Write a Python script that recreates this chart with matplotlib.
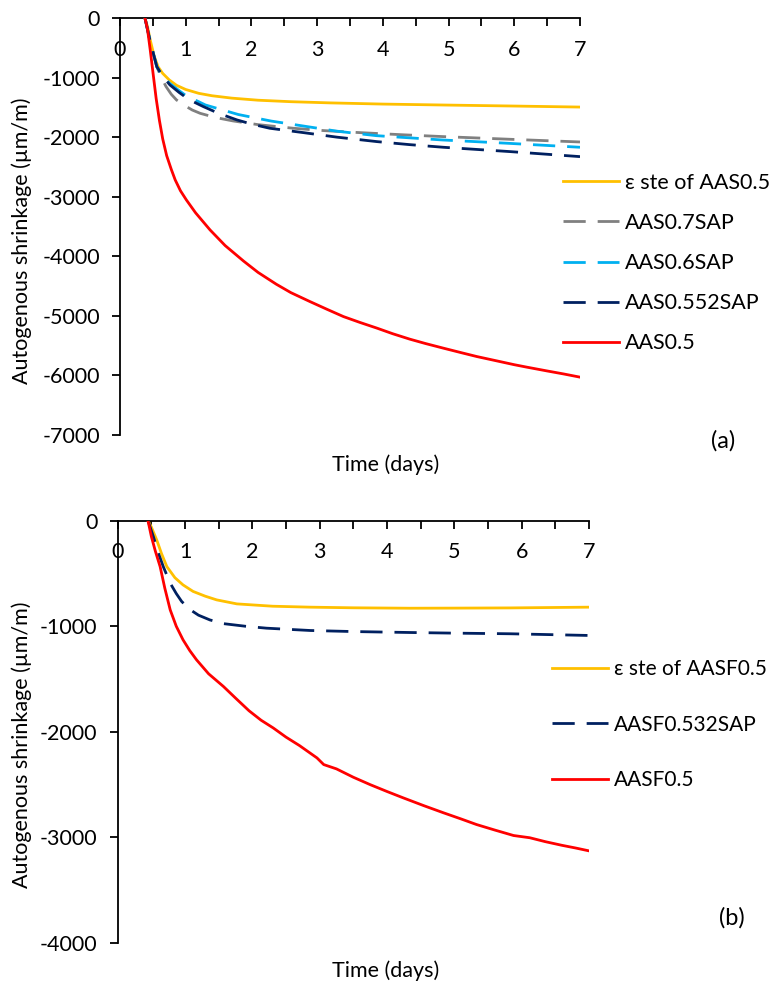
import numpy as np
import matplotlib.pyplot as plt
from matplotlib.ticker import MultipleLocator

# ------------------------------------------------------------
# (a) AAS mixes - autogenous shrinkage over the first 7 days
# ------------------------------------------------------------
a_ste_t = [0.38, 0.42, 0.46, 0.52, 0.58, 0.65, 0.75, 0.86, 1.0, 1.2, 1.4, 1.7, 2.1, 2.6, 3.2, 4.0, 5.0, 6.0, 7.0]
a_ste_v = [0, -150, -370, -640, -820, -930, -1040, -1130, -1200, -1265, -1305, -1345, -1380, -1405, -1425, -1445, -1462, -1478, -1495]

a_07_t = [0.38, 0.46, 0.56, 0.63, 0.7, 0.78, 0.86, 1.0, 1.1, 1.22, 1.45, 1.72, 2.1, 2.64, 3.1, 3.65, 4.3, 4.92, 5.94, 7.0]
a_07_v = [0, -400, -817, -1000, -1150, -1280, -1376, -1480, -1545, -1600, -1670, -1728, -1790, -1851, -1890, -1924, -1960, -1991, -2036, -2081]

a_06_t = [0.38, 0.46, 0.56, 0.65, 0.76, 0.9, 1.0, 1.3, 1.8, 2.3, 2.8, 3.3, 3.9, 4.9, 5.9, 7.0]
a_06_v = [0, -400, -817, -980, -1100, -1220, -1300, -1460, -1620, -1730, -1815, -1900, -1975, -2047, -2103, -2170]

a_0552_t = [0.38, 0.46, 0.56, 0.65, 0.76, 0.9, 1.05, 1.27, 1.5, 1.78, 2.0, 2.28, 2.79, 3.3, 3.91, 4.4, 4.92, 5.94, 7.0]
a_0552_v = [0, -400, -817, -980, -1124, -1250, -1370, -1488, -1600, -1711, -1780, -1851, -1924, -2000, -2075, -2125, -2170, -2243, -2327]

a_05_t = [0.38, 0.42, 0.46, 0.5, 0.55, 0.6, 0.65, 0.71, 0.78, 0.84, 0.92, 1.01, 1.15, 1.37, 1.6, 1.88,
          2.1, 2.38, 2.6, 2.89, 3.15, 3.4, 3.65, 3.91, 4.15, 4.41, 4.65, 4.92, 5.2, 5.43, 5.73, 6.0, 6.19, 6.5, 6.75, 7.0]
a_05_v = [0, -200, -537, -900, -1350, -1720, -2030, -2310, -2540, -2718, -2900, -3054, -3270, -3557, -3820, -4080,
          -4270, -4470, -4610, -4760, -4890, -5012, -5110, -5206, -5300, -5391, -5465, -5542, -5620, -5683, -5755, -5820, -5861, -5925, -5975, -6029]

# ------------------------------------------------------------
# (b) AASF mixes
# ------------------------------------------------------------
b_ste_t = [0.45, 0.5, 0.58, 0.65, 0.73, 0.85, 0.97, 1.12, 1.3, 1.47, 1.77, 2.3, 2.86, 3.5, 4.34, 5.0, 5.83, 7.0]
b_ste_v = [0, -60, -183, -310, -435, -540, -608, -670, -715, -750, -788, -810, -819, -825, -829, -828, -826, -819]

b_sap_t = [0.45, 0.53, 0.6, 0.68, 0.78, 0.87, 0.95, 1.07, 1.2, 1.37, 1.57, 1.9, 2.21, 2.86, 3.5, 4.34, 5.0, 5.83, 7.0]
b_sap_v = [0, -151, -300, -440, -592, -690, -765, -840, -895, -940, -975, -1000, -1018, -1040, -1050, -1059, -1065, -1071, -1087]

b_05_t = [0.45, 0.5, 0.56, 0.63, 0.7, 0.78, 0.87, 0.97, 1.07, 1.17, 1.35, 1.57, 1.75, 1.95, 2.13, 2.31, 2.5, 2.7,
          2.96, 3.06, 3.25, 3.5, 3.75, 4.0, 4.24, 4.55, 4.84, 5.1, 5.33, 5.6, 5.88, 6.12, 6.35, 6.6, 6.8, 7.02]
b_05_v = [0, -150, -290, -435, -640, -845, -1000, -1128, -1230, -1317, -1450, -1570, -1680, -1800, -1890, -1963, -2050, -2130,
          -2247, -2310, -2351, -2430, -2500, -2565, -2625, -2700, -2767, -2825, -2878, -2930, -2982, -3003, -3040, -3075, -3100, -3130]

YELLOW = '#FFC000'
GRAY = '#808080'
LBLUE = '#00B0F0'
NAVY = '#002060'
RED = '#FF0000'

plt.rcParams['font.family'] = ['Lato', 'DejaVu Sans']
plt.rcParams['axes.unicode_minus'] = False
FS = 15.5
LW = 2.0
DASH = (8.0, 4.3)

fig = plt.figure(figsize=(7.73, 9.85), dpi=100)
W, H = 773, 985


def px_axes(left, top, right, bottom):
    # axes placed from pixel edges of the reference image
    return fig.add_axes([left / W, 1 - bottom / H, (right - left) / W, (bottom - top) / H])


def style_axis(ax, ymin, ystep):
    ax.set_xlim(0, 7)
    ax.set_ylim(ymin, 0)
    ax.spines['right'].set_visible(False)
    ax.spines['top'].set_visible(False)
    ax.spines['bottom'].set_position(('data', 0))
    for s in ('left', 'bottom'):
        ax.spines[s].set_linewidth(1.3)
        ax.spines[s].set_zorder(1)
    ax.xaxis.set_major_locator(MultipleLocator(1))
    ax.xaxis.set_minor_locator(MultipleLocator(0.5))
    ax.yaxis.set_major_locator(MultipleLocator(ystep))
    ax.tick_params(axis='x', which='both', direction='out', length=5.5, width=1.3,
                   pad=10, labelsize=FS)
    ax.tick_params(axis='y', direction='out', length=5.5, width=1.3, pad=9, labelsize=FS)
    ax.set_xticks(np.arange(0, 8, 1))
    ax.set_xticklabels([str(i) for i in range(8)])


# ---------------- panel (a) ----------------
ax1 = px_axes(120, 18, 580, 435)
style_axis(ax1, -7000, 1000)
ax1.plot(a_ste_t, a_ste_v, color=YELLOW, lw=LW, label='ε ste of AAS0.5')
ax1.plot(a_07_t, a_07_v, color=GRAY, lw=LW, dashes=DASH, label='AAS0.7SAP')
ax1.plot(a_06_t, a_06_v, color=LBLUE, lw=LW, dashes=DASH, label='AAS0.6SAP')
ax1.plot(a_0552_t, a_0552_v, color=NAVY, lw=LW, dashes=DASH, label='AAS0.552SAP')
ax1.plot(a_05_t, a_05_v, color=RED, lw=LW, label='AAS0.5')
ax1.legend(loc='upper left', bbox_to_anchor=(563 / W, 1 - 173 / H), bbox_transform=fig.transFigure,
           frameon=False, fontsize=FS, handlelength=2.6, handletextpad=0.28,
           labelspacing=0.93, borderpad=0, borderaxespad=0)
fig.text(386 / W, 1 - 465 / H, 'Time (days)', ha='center', va='center', fontsize=FS)
fig.text(723 / W, 1 - 441 / H, '(a)', ha='center', va='center', fontsize=FS + 1.5)
fig.text(22 / W, 1 - 241 / H, 'Autogenous shrinkage (µm/m)', rotation=90,
         ha='center', va='center', fontsize=FS)

# ---------------- panel (b) ----------------
ax2 = px_axes(117.7, 520.7, 589, 943)
style_axis(ax2, -4000, 1000)
ax2.plot(b_ste_t, b_ste_v, color=YELLOW, lw=LW, label='ε ste of AASF0.5')
ax2.plot(b_sap_t, b_sap_v, color=NAVY, lw=LW, dashes=DASH, label='AASF0.532SAP')
ax2.plot(b_05_t, b_05_v, color=RED, lw=LW, label='AASF0.5')
ax2.legend(loc='upper left', bbox_to_anchor=(552 / W, 1 - 659 / H), bbox_transform=fig.transFigure,
           frameon=False, fontsize=FS - 0.5, handlelength=2.7, handletextpad=0.28,
           labelspacing=1.71, borderpad=0, borderaxespad=0)
fig.text(386 / W, 1 - 971 / H, 'Time (days)', ha='center', va='center', fontsize=FS)
fig.text(732 / W, 1 - 918 / H, '(b)', ha='center', va='center', fontsize=FS + 1.5)
fig.text(22 / W, 1 - 745 / H, 'Autogenous shrinkage (µm/m)', rotation=90,
         ha='center', va='center', fontsize=FS)

fig.savefig('out.png', dpi=100)
